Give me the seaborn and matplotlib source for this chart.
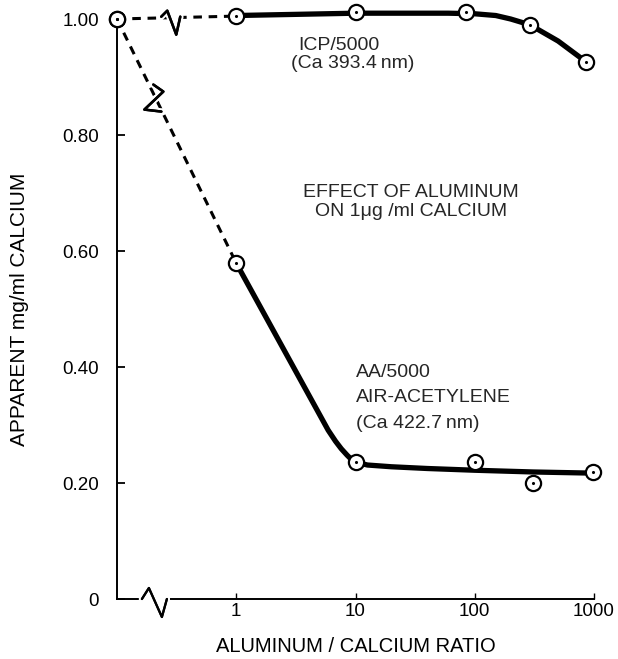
import numpy as np
import pandas as pd
import matplotlib
matplotlib.use("Agg")
import matplotlib.pyplot as plt
import matplotlib.transforms as mtransforms
import matplotlib.patheffects as pe
import seaborn as sns

# ---------------- data ----------------
icp_ratio = [0, 1, 10, 85, 290, 860]
icp_value = [1.000, 1.005, 1.012, 1.012, 0.990, 0.926]
icp_curve_ratio = [1, 10, 60, 100, 150, 200, 290, 500, 860]
icp_curve_value = [1.006, 1.010, 1.010, 1.009, 1.006, 1.000, 0.990, 0.962, 0.926]

aa_ratio = [0, 1, 10, 100, 310, 980]
aa_value = [1.000, 0.579, 0.236, 0.236, 0.200, 0.219]
aa_curve_ratio = [1, 5.9, 6.8, 7.6, 8.5, 9.3, 10, 12.6, 20, 40, 100, 310, 980]
aa_curve_value = [0.579, 0.291, 0.272, 0.259, 0.248, 0.240, 0.236, 0.231,
                  0.228, 0.225, 0.222, 0.219, 0.217]

x_ticks = [1, 10, 100, 1000]
x_ticklabels = ["1", "10", "100", "1000"]
y_ticks = [0, 0.2, 0.4, 0.6, 0.8, 1.0]
y_ticklabels = ["0", "0.20", "0.40", "0.60", "0.80", "1.00"]

# ---------------- style / layout ----------------
ZERO_POS = 0.1          # where ratio 0 is drawn on the broken log axis
XBREAK = 0.2            # axis break position
BREAK_FRAC_ICP = 0.455  # position of break mark along the dashed segment
BREAK_FRAC_AA = 0.33

sns.set_theme(style="white")
plt.rcParams["font.family"] = ["Liberation Sans", "DejaVu Sans"]

fig = plt.figure(figsize=(6.18, 6.59), dpi=100)
ax = fig.add_axes([117 / 618, 60 / 659, 477 / 618, 580 / 659])
ax.set_xscale("log")


def xpos(r):
    return [ZERO_POS if v == 0 else v for v in r]


# dashed segments from ratio 0 to ratio 1
for rx, vy in ((icp_ratio, icp_value), (aa_ratio, aa_value)):
    seg = pd.DataFrame({"x": xpos(rx[:2]), "y": vy[:2]})
    sns.lineplot(data=seg, x="x", y="y", ax=ax, color="black", lw=2.2,
                 linestyle=(0, (2.8, 2.2)), estimator=None, sort=False)

# smooth solid curves
for cx, cy in ((icp_curve_ratio, icp_curve_value), (aa_curve_ratio, aa_curve_value)):
    cdf = pd.DataFrame({"x": cx, "y": cy})
    sns.lineplot(data=cdf, x="x", y="y", ax=ax, color="black", lw=3.8,
                 estimator=None, sort=False, solid_capstyle="round",
                 solid_joinstyle="round")

for ln in ax.lines:
    ln.set_clip_on(False)

# markers
for rx, vy in ((icp_ratio, icp_value), (aa_ratio, aa_value)):
    mdf = pd.DataFrame({"x": xpos(rx), "y": vy})
    sns.scatterplot(data=mdf, x="x", y="y", ax=ax, s=120, color="white",
                    edgecolor="black", linewidth=1.6, zorder=5, clip_on=False)
    sns.scatterplot(data=mdf, x="x", y="y", ax=ax, s=5, color="black",
                    linewidth=0, zorder=6, clip_on=False)


def zigzag(xd, yd, pts_px, lw=1.8, cover=None):
    trans = fig.dpi_scale_trans + mtransforms.ScaledTranslation(xd, yd, ax.transData)
    if cover is not None:
        c = np.array(cover) / 100.0
        ax.plot(c[:, 0], c[:, 1], transform=trans, color="white", lw=3,
                clip_on=False, zorder=3, solid_capstyle="butt")
    a = np.array(pts_px) / 100.0
    ax.plot(a[:, 0], a[:, 1], transform=trans, color="black", lw=lw,
            clip_on=False, zorder=4,
            path_effects=[pe.withStroke(linewidth=lw + 3, foreground="white"),
                          pe.Normal()])


def frac_point(rx, vy, f):
    lx0 = np.log10(ZERO_POS)
    lx1 = np.log10(rx[1])
    return 10 ** (lx0 + f * (lx1 - lx0)), vy[0] + f * (vy[1] - vy[0])


# break marks
zigzag(XBREAK, 0, [(-11, 0), (-4, 11), (9, -18), (14, 0)], lw=1.6,
       cover=[(-11, 0), (14, 0)])
bx, by = frac_point(icp_ratio, icp_value, BREAK_FRAC_ICP)
zigzag(bx, by, [(-10, 1), (-4, 7), (5, -17), (9, 1)])
bx, by = frac_point(aa_ratio, aa_value, BREAK_FRAC_AA)
zigzag(bx, by, [(-3, 15), (7, 8), (-12, -10), (5, -12)])

# axes styling
ax.set_xlim(ZERO_POS, 1000)
ax.set_ylim(0, 1.0)
ax.set_xticks(x_ticks)
ax.set_xticklabels(x_ticklabels)
ax.xaxis.set_minor_locator(matplotlib.ticker.NullLocator())
ax.set_yticks(y_ticks)
ax.set_yticklabels(y_ticklabels)
ax.tick_params(axis="x", direction="in", length=4, width=1.0, pad=3,
               labelsize=13.5, colors="black", bottom=True)
ax.tick_params(axis="y", direction="in", length=6, width=1.3, pad=13,
               labelsize=13.5, colors="black", left=True)
for s in ("top", "right"):
    ax.spines[s].set_visible(False)
for s in ("left", "bottom"):
    ax.spines[s].set_color("black")
    ax.spines[s].set_linewidth(1.4)
ax.grid(False)

ax.set_xlabel("ALUMINUM / CALCIUM RATIO", fontsize=14.5, color="black")
ax.xaxis.set_label_coords(0.5, -0.066)
ax.set_ylabel("APPARENT mg/ml CALCIUM", fontsize=15, color="black")
ax.yaxis.set_label_coords(-0.185, 0.5)

# annotations
ax.text(3.3, 0.955, "ICP/5000", fontsize=14, va="center", ha="left")
ax.text(2.9, 0.924, "(Ca 393.4\u2009nm)", fontsize=14, va="center", ha="left")
ax.text(29.3, 0.685, "EFFECT OF ALUMINUM\nON 1\u03bcg /ml CALCIUM", fontsize=14,
        va="center", ha="center", linespacing=1.15)
ax.text(10, 0.391, "AA/5000", fontsize=14, va="center", ha="left")
ax.text(10, 0.347, "AIR-ACETYLENE", fontsize=14, va="center", ha="left")
ax.text(10, 0.303, "(Ca 422.7\u2009nm)", fontsize=14, va="center", ha="left")

fig.savefig("out.png", dpi=100, facecolor="white")
